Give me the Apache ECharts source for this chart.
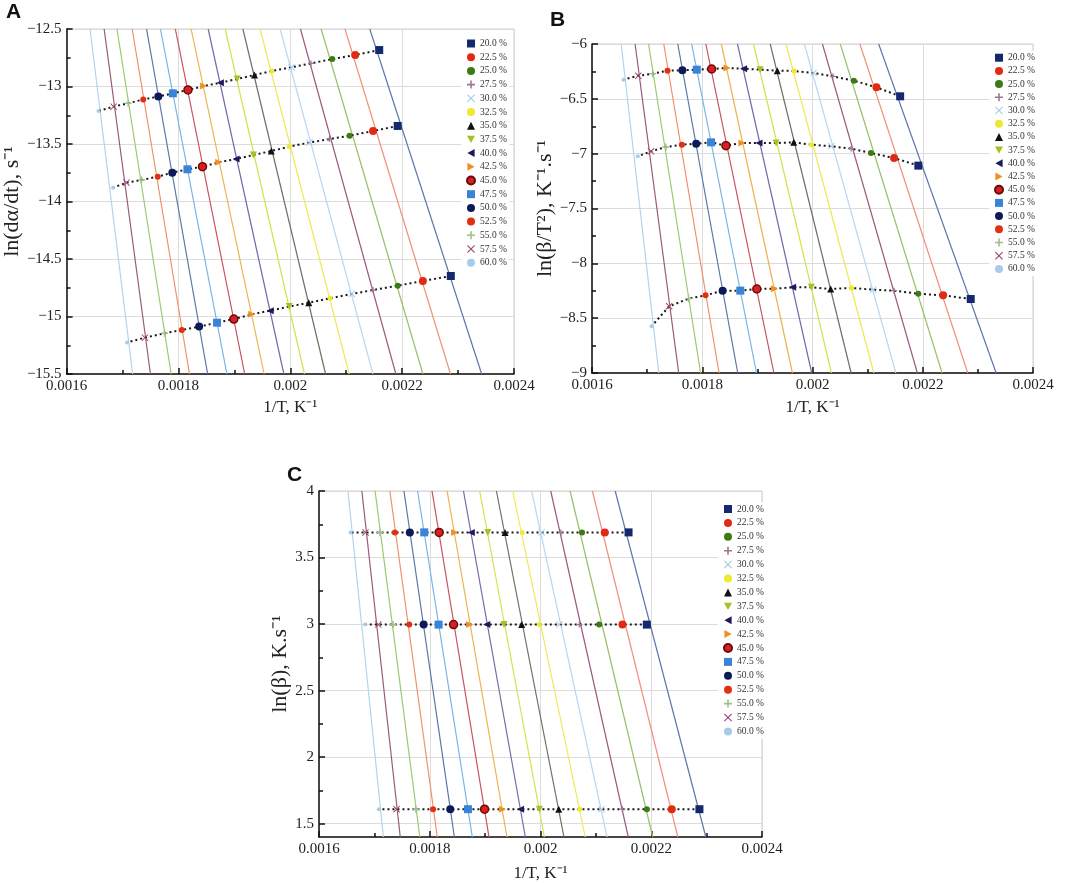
<!DOCTYPE html>
<html>
<head>
<meta charset="utf-8">
<script src="https://cdn.jsdelivr.net/npm/echarts@6/dist/echarts.min.js"></script>
<style>
  html, body { margin: 0; padding: 0; background: #fff; }
  #chart { width: 1065px; height: 883px; }
</style>
</head>
<body>
<div id="chart"></div>
<script>
// conversion levels (legend order)
const conversions = ['20.0 %', '22.5 %', '25.0 %', '27.5 %', '30.0 %', '32.5 %', '35.0 %', '37.5 %',
  '40.0 %', '42.5 %', '45.0 %', '47.5 %', '50.0 %', '52.5 %', '55.0 %', '57.5 %', '60.0 %'];

// 1/T at each conversion, one list per heating rate (40, 20, 5)
const invT40 = [0.002159, 0.002116, 0.002075, 0.002037, 0.002002, 0.001967, 0.001936, 0.001905,
  0.001875, 0.001845, 0.001817, 0.001790, 0.001764, 0.001737, 0.001710, 0.001684, 0.001657];
const invT20 = [0.002192, 0.002148, 0.002106, 0.002070, 0.002034, 0.001998, 0.001966, 0.001934,
  0.001903, 0.001872, 0.001843, 0.001816, 0.001789, 0.001763, 0.001734, 0.001707, 0.001683];
const invT5 = [0.002287, 0.002237, 0.002192, 0.002148, 0.002110, 0.002071, 0.002033, 0.001998,
  0.001964, 0.001931, 0.001899, 0.001869, 0.001837, 0.001806, 0.001775, 0.001740, 0.001708];

// panel A: ln(da/dt)
const lnRateA40 = [-12.683, -12.726, -12.761, -12.799, -12.833, -12.865, -12.900, -12.935,
  -12.967, -12.996, -13.030, -13.059, -13.088, -13.112, -13.146, -13.175, -13.213];
const lnRateA20 = [-13.343, -13.387, -13.428, -13.457, -13.488, -13.523, -13.561, -13.596,
  -13.630, -13.659, -13.697, -13.720, -13.749, -13.784, -13.813, -13.836, -13.880];
const lnRateA5 = [-14.648, -14.691, -14.732, -14.770, -14.804, -14.842, -14.880, -14.914,
  -14.949, -14.981, -15.022, -15.054, -15.088, -15.117, -15.146, -15.184, -15.225];

// panel B: ln(beta/T^2)
const lnBT2B40 = [-6.477, -6.395, -6.334, -6.295, -6.264, -6.246, -6.243, -6.234,
  -6.225, -6.219, -6.228, -6.234, -6.240, -6.243, -6.271, -6.289, -6.325];
const lnBT2B20 = [-7.109, -7.040, -6.994, -6.954, -6.933, -6.918, -6.897, -6.903,
  -6.903, -6.903, -6.927, -6.897, -6.909, -6.918, -6.939, -6.979, -7.024];
const lnBT2B5 = [-8.325, -8.292, -8.277, -8.249, -8.240, -8.225, -8.234, -8.219,
  -8.219, -8.231, -8.234, -8.249, -8.249, -8.292, -8.322, -8.392, -8.574];

// panel C: ln(beta), one value per heating rate
const lnBeta = [3.689, 2.996, 1.609];

// y tick labels of panel C
const yTicksC = [1.5, 2, 2.5, 3, 3.5, 4];
const yMinorTicksC = [1.75, 2.25, 2.75, 3.25, 3.75];

// styles
const lineColors = ['#5a78a8', '#f0907a', '#98c068', '#9a5a80', '#b8d8f4', '#f0e858', '#707060', '#d8e050',
  '#7868a8', '#f0b050', '#c85060', '#78b4e4', '#5878a8', '#f0906a', '#9cc870', '#9a5a78', '#b0d4f0'];
const PLUS = 'path://M4,0h2v4h4v2h-4v4h-2v-4h-4v-2h4z';
const CROSS = 'path://M1,0L5,4L9,0L10,1L6,5L10,9L9,10L5,6L1,10L0,9L4,5L0,1Z';
const TRI_DOWN = 'path://M0,0L10,0L5,9Z';
const TRI_LEFT = 'path://M0,5L9,0L9,10Z';
const TRI_RIGHT = 'path://M9,5L0,0L0,10Z';
const markers = [
  {symbol: 'rect', size: 8, color: '#14286e'},
  {symbol: 'circle', size: 8, color: '#e02a12'},
  {symbol: 'circle', size: 6, color: '#3c7a14'},
  {symbol: PLUS, size: 6, color: '#9c7890'},
  {symbol: CROSS, size: 7, color: '#a8cce8'},
  {symbol: 'circle', size: 5, color: '#eee830'},
  {symbol: 'triangle', size: 7, color: '#111111'},
  {symbol: TRI_DOWN, size: 7, color: '#a8c020'},
  {symbol: TRI_LEFT, size: 7, color: '#1c1c5c'},
  {symbol: TRI_RIGHT, size: 7, color: '#f09020'},
  {symbol: 'circle', size: 8, color: '#d82020', border: '#6a0a0a'},
  {symbol: 'rect', size: 8, color: '#3a84d8'},
  {symbol: 'circle', size: 8, color: '#0c1a5a'},
  {symbol: 'circle', size: 6, color: '#e03010'},
  {symbol: PLUS, size: 7, color: '#a0c088'},
  {symbol: CROSS, size: 7, color: '#a04868'},
  {symbol: 'circle', size: 4, color: '#a8cce8'}
];

const SERIF = 'Liberation Serif';
const invTRows = [invT40, invT20, invT5];

const panels = [
  {rows: [lnRateA40, lnRateA20, lnRateA5], yMin: -15.5, yMax: -12.5},
  {rows: [lnBT2B40, lnBT2B20, lnBT2B5], yMin: -9, yMax: -6},
  {rows: lnBeta.map(v => conversions.map(() => v)), yMin: 1.4, yMax: 4}
];

// least squares y = m*x + c through the three heating rates
function fit(xs, ys) {
  const n = xs.length;
  const mx = xs.reduce((a, b) => a + b, 0) / n;
  const my = ys.reduce((a, b) => a + b, 0) / n;
  let sxy = 0, sxx = 0;
  for (let i = 0; i < n; i++) {
    sxy += (xs[i] - mx) * (ys[i] - my);
    sxx += (xs[i] - mx) * (xs[i] - mx);
  }
  const m = sxy / sxx;
  return {m: m, c: my - m * mx};
}

const axisColor = '#111';
function xAxisFor(gridIndex, nameGap) {
  return {
    type: 'value', gridIndex: gridIndex,
    min: 0.0016, max: 0.0024, interval: 0.0002,
    name: '1/T, K⁻¹', nameLocation: 'middle', nameGap: nameGap,
    nameTextStyle: {fontFamily: SERIF, fontSize: 17, color: '#222'},
    axisLine: {onZero: false, lineStyle: {color: axisColor, width: 1.5}},
    axisTick: {inside: true, length: 6, lineStyle: {color: axisColor, width: 1.5}},
    minorTick: {show: true, splitNumber: 2, length: 4, lineStyle: {color: axisColor, width: 1.5}},
    axisLabel: {fontFamily: SERIF, fontSize: 15, color: '#222', margin: 5},
    splitLine: {show: true, lineStyle: {color: '#dcdcdc', width: 1}}
  };
}
function yAxisFor(gridIndex, name, nameGap, min, max, extra) {
  return Object.assign({
    type: 'value', gridIndex: gridIndex, min: min, max: max, interval: 0.5,
    position: 'left',
    name: name, nameLocation: 'middle', nameGap: nameGap,
    nameTextStyle: {fontFamily: SERIF, fontSize: 22, color: '#222'},
    axisLine: {onZero: false, lineStyle: {color: axisColor, width: 1.5}},
    axisTick: {inside: true, length: 6, lineStyle: {color: axisColor, width: 1.5}},
    minorTick: {show: true, splitNumber: 2, length: 4, lineStyle: {color: axisColor, width: 1.5}},
    axisLabel: {fontFamily: SERIF, fontSize: 15, color: '#222', margin: 5,
      formatter: v => String(v).replace('-', '−')},
    splitLine: {show: true, lineStyle: {color: '#dcdcdc', width: 1}}
  }, extra || {});
}

const series = [];
panels.forEach((p, pi) => {
  // fitted line for each conversion, drawn across the whole plot height
  conversions.forEach((name, c) => {
    const xs = invTRows.map(r => r[c]);
    const ys = p.rows.map(r => r[c]);
    const f = fit(xs, ys);
    series.push({
      type: 'line', name: name + ' fit', xAxisIndex: pi, yAxisIndex: pi,
      data: [[(p.yMin - f.c) / f.m, p.yMin], [(p.yMax - f.c) / f.m, p.yMax]],
      symbol: 'none', silent: true, z: 1,
      lineStyle: {color: lineColors[c], width: 1.2}
    });
  });
  // dotted line per heating rate
  p.rows.forEach((row, r) => {
    series.push({
      type: 'line', name: 'rate ' + r, xAxisIndex: pi, yAxisIndex: pi,
      data: invTRows[r].map((x, c) => [x, row[c]]),
      symbol: 'none', silent: true, z: 2,
      lineStyle: {color: '#1a1a1a', width: 2, type: [2, 3]}
    });
  });
  // points
  conversions.forEach((name, c) => {
    const mk = markers[c];
    series.push({
      type: 'scatter', name: name, xAxisIndex: pi, yAxisIndex: pi,
      data: invTRows.map((r, k) => [r[c], p.rows[k][c]]),
      symbol: mk.symbol, symbolSize: mk.size, z: 3,
      itemStyle: {color: mk.color, opacity: 1,
        borderColor: mk.border || mk.color, borderWidth: mk.border ? 1.5 : 0}
    });
  });
});

function legendAt(left, top, gap) {
  return {
    data: conversions, orient: 'vertical', left: left, top: top,
    itemWidth: 8, itemHeight: 8, itemGap: gap,
    textStyle: {fontFamily: SERIF, fontSize: 9.5, color: '#333', lineHeight: 10},
    backgroundColor: '#fff', padding: [2, 2, 2, 5], selectedMode: false
  };
}

const panelTitle = (text, left, top) => ({
  text: text, left: left, top: top, padding: 0,
  textStyle: {fontFamily: 'Liberation Sans', fontWeight: 'bold', fontSize: 21, color: '#111'}
});

const myChart = echarts.init(document.getElementById('chart'));
myChart.setOption({
  animation: false,
  backgroundColor: '#fff',
  title: [panelTitle('A', 6, 2), panelTitle('B', 550, 10), panelTitle('C', 287, 465)],
  grid: [
    {left: 62, top: 29, width: 452, height: 345, show: true, borderColor: '#cfcfcf', borderWidth: 1},
    {left: 592, top: 44, width: 441, height: 329, show: true, borderColor: '#cfcfcf', borderWidth: 1},
    {left: 319, top: 491, width: 443, height: 347, show: true, borderColor: '#cfcfcf', borderWidth: 1}
  ],
  xAxis: [xAxisFor(0, 25), xAxisFor(1, 26), xAxisFor(2, 28)],
  yAxis: [
    yAxisFor(0, 'ln(dα/dt), s⁻¹', 36, -15.5, -12.5),
    yAxisFor(1, 'ln(β/T²), K⁻¹.s⁻¹', 34, -9, -6),
    yAxisFor(2, 'ln(β), K.s⁻¹', 23, 1.4, 4, {
      interval: null,
      minorTick: {show: false},
      axisTick: {inside: true, length: 6, customValues: yTicksC, lineStyle: {color: axisColor, width: 1.5}},
      axisLabel: {fontFamily: SERIF, fontSize: 15, color: '#222', margin: 5, customValues: yTicksC}
    }),
    // minor ticks of panel C, on the same left axis line
    {
      type: 'value', gridIndex: 2, min: 1.4, max: 4, position: 'left', offset: 0,
      axisLine: {show: false}, axisLabel: {show: false}, splitLine: {show: false},
      axisTick: {inside: true, length: 4, customValues: yMinorTicksC, lineStyle: {color: axisColor, width: 1.5}}
    }
  ],
  legend: [legendAt(461, 36.5, 3.7), legendAt(989, 50.7, 3.2), legendAt(718, 502, 3.9)],
  series: series
});
</script>
</body>
</html>
